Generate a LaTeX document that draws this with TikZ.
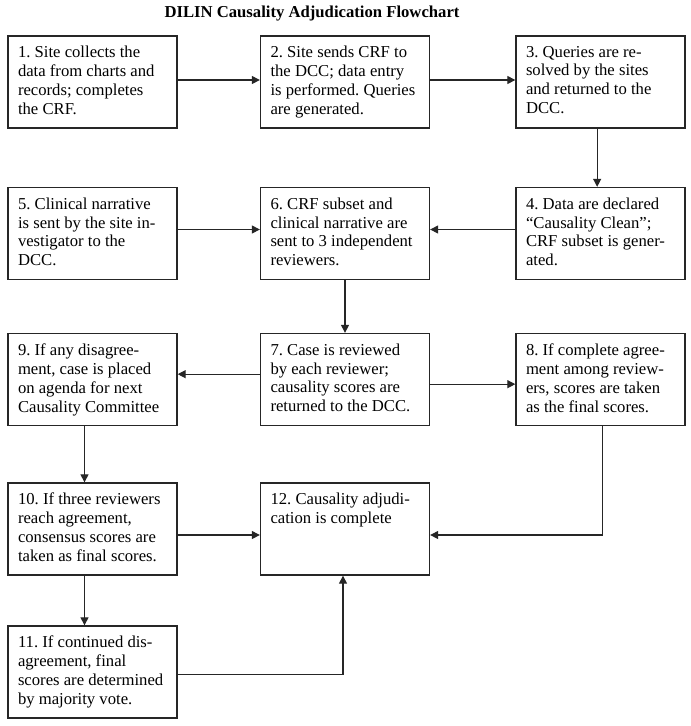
\documentclass[tikz,border=0pt]{standalone}
\usepackage{fontspec}
\setmainfont{Liberation Serif}
\usetikzlibrary{arrows.meta}
\frenchspacing
\newcommand{\steptext}[1]{\parbox[t][54pt][t]{111.75pt}{\raggedright #1}}

\begin{document}
\begin{tikzpicture}[x=0.75pt,y=-0.75pt]
		\useasboundingbox (0,0) rectangle (691,726);
		\node[font=\bfseries\fontsize{12.5}{14}\selectfont] (T) at (312,14) {DILIN Causality Adjudication Flowchart};
		\begin{scope}[every node/.style={rectangle,draw=black!85,line width=1pt,inner sep=7.5pt,
			font=\fontsize{12.5}{14.2}\selectfont}]
			\node (S1) at (92.5,82) {\steptext{1. Site collects the\\data from charts and\\records; completes\\the CRF.}};
			\node (S2) at (345,82) {\steptext{2. Site sends CRF to\\the DCC; data entry\\is performed. Queries\\are generated.}};
			\node (S3) at (600.5,82) {\steptext{3. Queries are re-\\solved by the sites\\and returned to the\\DCC.}};
			\node (S5) at (92.5,233.5) {\steptext{5. Clinical narrative\\is sent by the site in-\\vestigator to the\\DCC.}};
			\node (S6) at (345,233.5) {\steptext{6. CRF subset and\\clinical narrative are\\sent to 3 independent\\reviewers.}};
			\node (S4) at (600.5,233.5) {\steptext{4. Data are declared\\“Causality Clean”;\\CRF subset is gener-\\ated.}};
			\node (S9) at (92.5,379.5) {\steptext{9. If any disagree-\\ment, case is placed\\on agenda for next\\Causality Committee}};
			\node (S7) at (345,379.5) {\steptext{7. Case is reviewed\\by each reviewer;\\causality scores are\\returned to the DCC.}};
			\node (S8) at (600.5,379.5) {\steptext{8. If complete agree-\\ment among review-\\ers, scores are taken\\as the final scores.}};
			\node (S10) at (92.5,529) {\steptext{10. If three reviewers\\reach agreement,\\consensus scores are\\taken as final scores.}};
			\node (S12) at (345,529) {\steptext{12. Causality adjudi-\\cation is complete}};
			\node (S11) at (92.5,672) {\steptext{11. If continued dis-\\agreement, final\\scores are determined\\by majority vote.}};
		\end{scope}
		\begin{scope}[>={Triangle[length=6pt,width=6pt]},color=black!85,line width=0.9pt,
			every edge/.style={draw}]
			\path [->] ([yshift=1.5pt]S1.east) edge ([yshift=1.5pt]S2.west);
			\path [->] ([yshift=1.5pt]S2.east) edge ([yshift=1.5pt]S3.west);
			\path [->] ([xshift=-2.5pt]S3.south) edge ([xshift=-2.5pt]S4.north);
			\path [->] ([yshift=3pt]S4.west) edge ([yshift=3pt]S6.east);
			\path [->] ([yshift=3pt]S5.east) edge ([yshift=3pt]S6.west);
			\path [->] (S6) edge (S7);
			\path [->] ([yshift=4pt]S7.west) edge ([yshift=4pt]S9.east);
			\path [->] ([yshift=-3.5pt]S7.east) edge ([yshift=-3.5pt]S8.west);
			\path [->] ([xshift=-6pt]S9.south) edge ([xshift=-6pt]S10.north);
			\path [->] ([xshift=-6pt]S10.south) edge ([xshift=-6pt]S11.north);
			\path [->] ([yshift=-4.5pt]S10.east) edge ([yshift=-4.5pt]S12.west);
			\draw [->] ([xshift=1.5pt]S8.south) |- ([yshift=-4.5pt]S12.east);
			\draw [->] ([yshift=-2pt]S11.east) -| ([xshift=-1.5pt]S12.south);
		\end{scope}
	\end{tikzpicture}
\end{document}
